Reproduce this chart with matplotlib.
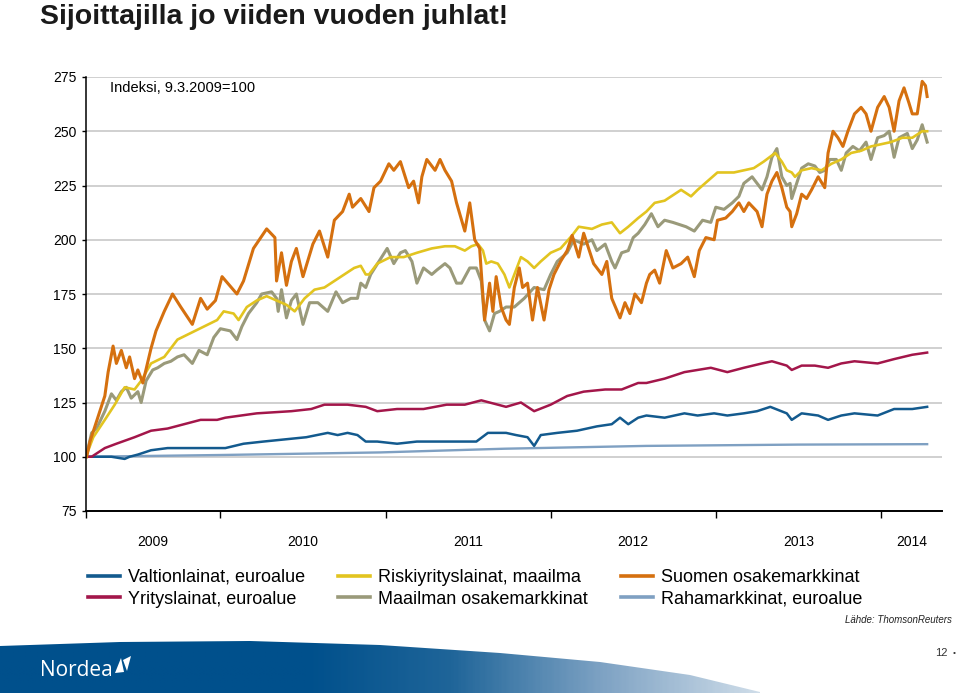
import numpy as np
import matplotlib
matplotlib.use("Agg")
import matplotlib.pyplot as plt
from matplotlib.colors import LinearSegmentedColormap
from matplotlib.patches import Polygon

plt.rcParams['font.family'] = ['Liberation Sans', 'DejaVu Sans']

# --- data (decimal years, index 9.3.2009 = 100) ---
suomen_t = [2009.19, 2009.21, 2009.24, 2009.27, 2009.30, 2009.32, 2009.35, 2009.37, 2009.40, 2009.43,
            2009.45, 2009.48, 2009.50, 2009.53, 2009.58, 2009.61, 2009.66, 2009.71, 2009.76, 2009.83,
            2009.88, 2009.92, 2009.97, 2010.01, 2010.10, 2010.14, 2010.20, 2010.28, 2010.33, 2010.34,
            2010.37, 2010.40, 2010.43, 2010.46, 2010.50, 2010.56, 2010.60, 2010.65, 2010.69, 2010.74,
            2010.78, 2010.80, 2010.85, 2010.90, 2010.93, 2010.97, 2011.02, 2011.05, 2011.09, 2011.14,
            2011.17, 2011.20, 2011.22, 2011.25, 2011.30, 2011.33, 2011.36, 2011.40, 2011.43, 2011.48,
            2011.51, 2011.54, 2011.57, 2011.60, 2011.63, 2011.65, 2011.67, 2011.70, 2011.73, 2011.75,
            2011.78, 2011.81, 2011.83, 2011.86, 2011.89, 2011.92, 2011.96, 2011.99, 2012.02, 2012.06,
            2012.10, 2012.13, 2012.17, 2012.20, 2012.23, 2012.26, 2012.31, 2012.34, 2012.37, 2012.42,
            2012.45, 2012.48, 2012.51, 2012.55, 2012.58, 2012.60, 2012.63, 2012.66, 2012.70, 2012.74,
            2012.79, 2012.83, 2012.87, 2012.90, 2012.94, 2012.99, 2013.01, 2013.06, 2013.10, 2013.14,
            2013.17, 2013.20, 2013.25, 2013.28, 2013.31, 2013.34, 2013.37, 2013.40, 2013.43, 2013.45,
            2013.46, 2013.49, 2013.52, 2013.55, 2013.58, 2013.62, 2013.66, 2013.68, 2013.71, 2013.74,
            2013.77, 2013.80, 2013.84, 2013.88, 2013.91, 2013.94, 2013.98, 2014.02, 2014.05, 2014.08,
            2014.11, 2014.14, 2014.17, 2014.19, 2014.22, 2014.25, 2014.27, 2014.28]
suomen_v = [100, 107, 114, 121, 128, 139, 151, 143, 149, 141,
            146, 136, 140, 134, 150, 158, 167, 175, 169, 161,
            173, 168, 172, 183, 175, 181, 196, 205, 201, 181,
            194, 179, 190, 196, 183, 198, 204, 192, 209, 213,
            221, 215, 219, 213, 224, 227, 235, 232, 236, 224,
            227, 217, 229, 237, 232, 237, 232, 227, 217, 204,
            217, 200, 196, 163, 180, 167, 183, 169, 163, 161,
            178, 187, 178, 180, 163, 178, 163, 177, 184, 190,
            195, 202, 192, 203, 196, 189, 184, 190, 173, 164,
            171, 166, 175, 171, 180, 184, 186, 180, 195, 187,
            189, 192, 183, 195, 201, 200, 209, 210, 213, 217,
            213, 217, 213, 206, 221, 227, 231, 224, 215, 213,
            206, 212, 221, 219, 223, 229, 224, 240, 250, 247,
            243, 250, 258, 261, 258, 250, 261, 266, 261, 250,
            264, 270, 263, 258, 258, 273, 271, 266]

maailman_t = [2009.19, 2009.22, 2009.25, 2009.30, 2009.34, 2009.37, 2009.40, 2009.43, 2009.46, 2009.50,
              2009.52, 2009.55, 2009.59, 2009.62, 2009.66, 2009.70, 2009.74, 2009.78, 2009.83, 2009.87,
              2009.92, 2009.96, 2010.00, 2010.06, 2010.10, 2010.13, 2010.17, 2010.22, 2010.25, 2010.31,
              2010.34, 2010.35, 2010.37, 2010.40, 2010.43, 2010.46, 2010.50, 2010.54, 2010.59, 2010.65,
              2010.70, 2010.74, 2010.79, 2010.83, 2010.85, 2010.88, 2010.91, 2010.96, 2011.01, 2011.05,
              2011.09, 2011.12, 2011.16, 2011.19, 2011.23, 2011.28, 2011.31, 2011.36, 2011.39, 2011.43,
              2011.46, 2011.51, 2011.55, 2011.58, 2011.60, 2011.63, 2011.66, 2011.69, 2011.73, 2011.78,
              2011.84, 2011.90, 2011.96, 2012.00, 2012.04, 2012.10, 2012.14, 2012.20, 2012.25, 2012.28,
              2012.33, 2012.37, 2012.39, 2012.43, 2012.47, 2012.50, 2012.53, 2012.57, 2012.61, 2012.65,
              2012.69, 2012.74, 2012.78, 2012.82, 2012.87, 2012.92, 2012.97, 2013.00, 2013.05, 2013.10,
              2013.14, 2013.17, 2013.22, 2013.25, 2013.28, 2013.31, 2013.34, 2013.37, 2013.40, 2013.43,
              2013.45, 2013.46, 2013.49, 2013.52, 2013.56, 2013.60, 2013.63, 2013.66, 2013.69, 2013.73,
              2013.76, 2013.79, 2013.83, 2013.87, 2013.91, 2013.94, 2013.98, 2014.02, 2014.05, 2014.08,
              2014.11, 2014.16, 2014.19, 2014.22, 2014.25, 2014.28]
maailman_v = [101, 111, 113, 121, 129, 126, 130, 132, 127, 130,
              125, 135, 140, 141, 143, 144, 146, 147, 143, 149,
              147, 155, 159, 158, 154, 160, 166, 171, 175, 176,
              173, 167, 177, 164, 172, 175, 161, 171, 171, 167,
              176, 171, 173, 173, 180, 178, 184, 190, 196, 189,
              194, 195, 190, 180, 187, 184, 186, 189, 187, 180,
              180, 187, 187, 181, 163, 158, 166, 167, 169, 169,
              173, 178, 177, 184, 190, 194, 200, 198, 200, 195,
              198, 190, 187, 194, 195, 201, 203, 207, 212, 206,
              209, 208, 207, 206, 204, 209, 208, 215, 214, 217,
              220, 226, 229, 226, 223, 229, 238, 242, 229, 225,
              226, 219, 226, 233, 235, 234, 231, 232, 237, 237,
              232, 240, 243, 241, 245, 237, 247, 248, 250, 238,
              247, 249, 242, 246, 253, 245]

riski_t = [2009.19, 2009.23, 2009.30, 2009.36, 2009.42, 2009.48, 2009.52, 2009.58, 2009.66, 2009.74,
           2009.82, 2009.90, 2009.98, 2010.02, 2010.08, 2010.11, 2010.16, 2010.22, 2010.28, 2010.34,
           2010.40, 2010.45, 2010.51, 2010.57, 2010.63, 2010.69, 2010.75, 2010.81, 2010.85, 2010.88,
           2010.90, 2010.95, 2011.03, 2011.11, 2011.19, 2011.28, 2011.36, 2011.42, 2011.48, 2011.52,
           2011.56, 2011.59, 2011.61, 2011.64, 2011.68, 2011.72, 2011.75, 2011.78, 2011.82, 2011.86,
           2011.90, 2011.94, 2012.00, 2012.06, 2012.13, 2012.17, 2012.25, 2012.31, 2012.37, 2012.42,
           2012.47, 2012.53, 2012.58, 2012.63, 2012.69, 2012.73, 2012.79, 2012.85, 2012.89, 2012.95,
           2013.01, 2013.07, 2013.11, 2013.17, 2013.23, 2013.29, 2013.36, 2013.40, 2013.43, 2013.46,
           2013.48, 2013.52, 2013.58, 2013.64, 2013.70, 2013.76, 2013.82, 2013.88, 2013.94, 2014.00,
           2014.06, 2014.13, 2014.19, 2014.25, 2014.28]
riski_v = [101, 109, 117, 124, 132, 131, 135, 143, 146, 154,
           157, 160, 163, 167, 166, 163, 169, 172, 174, 172,
           170, 167, 173, 177, 178, 181, 184, 187, 188, 184,
           184, 189, 192, 192, 194, 196, 197, 197, 195, 197,
           198, 195, 189, 190, 189, 184, 178, 184, 192, 190,
           187, 190, 194, 196, 202, 206, 205, 207, 208, 203,
           206, 210, 213, 217, 218, 220, 223, 220, 223, 227,
           231, 231, 231, 232, 233, 236, 240, 236, 232, 231,
           229, 232, 233, 232, 235, 237, 240, 241, 243, 244,
           245, 247, 247, 250, 250]

yritys_t = [2009.19, 2009.22, 2009.30, 2009.37, 2009.48, 2009.58, 2009.68, 2009.78, 2009.88, 2009.98,
            2010.03, 2010.22, 2010.43, 2010.55, 2010.63, 2010.77, 2010.88, 2010.95, 2011.07, 2011.23,
            2011.37, 2011.48, 2011.58, 2011.68, 2011.73, 2011.82, 2011.90, 2012.00, 2012.10, 2012.20,
            2012.33, 2012.43, 2012.53, 2012.58, 2012.69, 2012.81, 2012.97, 2013.07, 2013.17, 2013.28,
            2013.34, 2013.43, 2013.46, 2013.52, 2013.60, 2013.68, 2013.76, 2013.84, 2013.98, 2014.08,
            2014.19, 2014.28]
yritys_v = [100, 100, 104, 106, 109, 112, 113, 115, 117, 117,
            118, 120, 121, 122, 124, 124, 123, 121, 122, 122,
            124, 124, 126, 124, 123, 125, 121, 124, 128, 130,
            131, 131, 134, 134, 136, 139, 141, 139, 141, 143,
            144, 142, 140, 142, 142, 141, 143, 144, 143, 145,
            147, 148]

valtion_t = [2009.19, 2009.28, 2009.34, 2009.42, 2009.45, 2009.50, 2009.58, 2009.68, 2009.88, 2010.03,
             2010.14, 2010.26, 2010.39, 2010.52, 2010.65, 2010.71, 2010.77, 2010.83, 2010.88, 2010.95,
             2011.07, 2011.19, 2011.31, 2011.43, 2011.55, 2011.62, 2011.73, 2011.79, 2011.86, 2011.90,
             2011.94, 2012.04, 2012.16, 2012.28, 2012.37, 2012.42, 2012.47, 2012.53, 2012.58, 2012.69,
             2012.81, 2012.89, 2012.99, 2013.07, 2013.17, 2013.25, 2013.33, 2013.43, 2013.46, 2013.52,
             2013.62, 2013.68, 2013.76, 2013.84, 2013.98, 2014.08, 2014.19, 2014.28]
valtion_v = [100, 100, 100, 99, 100, 101, 103, 104, 104, 104,
             106, 107, 108, 109, 111, 110, 111, 110, 107, 107,
             106, 107, 107, 107, 107, 111, 111, 110, 109, 105,
             110, 111, 112, 114, 115, 118, 115, 118, 119, 118,
             120, 119, 120, 119, 120, 121, 123, 120, 117, 120,
             119, 117, 119, 120, 119, 122, 122, 123]

raha_t = [2009.19, 2010.00, 2010.97, 2011.72, 2012.58, 2013.50, 2014.28]
raha_v = [100, 100.8, 102.0, 103.7, 105.0, 105.6, 105.8]

year_bounds = [2009.186, 2010, 2011, 2012, 2013, 2014]
year_labels = ['2009', '2010', '2011', '2012', '2013', '2014']
x_end = 2014.37
y_ticks = [75, 100, 125, 150, 175, 200, 225, 250, 275]

c_valtion = '#135a8e'
c_yritys = '#a3164a'
c_riski = '#e2c420'
c_maailman = '#9a9a7a'
c_suomen = '#d5700f'
c_raha = '#7fa0c2'

fig = plt.figure(figsize=(9.6, 6.93), dpi=100)
ax = fig.add_axes([86 / 960, 1 - 511 / 693, 856 / 960, 434 / 693])

l_raha, = ax.plot(raha_t, raha_v, color=c_raha, lw=1.7, label='Rahamarkkinat, euroalue')
l_valtion, = ax.plot(valtion_t, valtion_v, color=c_valtion, lw=1.8, label='Valtionlainat, euroalue')
l_yritys, = ax.plot(yritys_t, yritys_v, color=c_yritys, lw=1.8, label='Yrityslainat, euroalue')
l_maailman, = ax.plot(maailman_t, maailman_v, color=c_maailman, lw=2.2, label='Maailman osakemarkkinat')
l_riski, = ax.plot(riski_t, riski_v, color=c_riski, lw=1.9, label='Riskiyrityslainat, maailma')
l_suomen, = ax.plot(suomen_t, suomen_v, color=c_suomen, lw=2.2, label='Suomen osakemarkkinat')

ax.set_xlim(year_bounds[0], x_end)
ax.set_ylim(75, 275)
ax.set_yticks(y_ticks)
ax.yaxis.grid(True, color='#c4c4c4', lw=1.1)
ax.set_axisbelow(True)

mids = [(a + b) / 2 for a, b in zip(year_bounds, year_bounds[1:] + [x_end])]
ax.set_xticks(year_bounds)
ax.set_xticklabels([])
ax.set_xticks(mids, minor=True)
ax.set_xticklabels(year_labels, minor=True)
ax.tick_params(axis='x', which='major', direction='out', length=5, width=1)
ax.tick_params(axis='x', which='minor', length=0, pad=17.5, labelsize=10)
ax.tick_params(axis='y', direction='out', length=3, width=1, pad=4, labelsize=10)

for s in ['top', 'right']:
    ax.spines[s].set_visible(False)
ax.spines['left'].set_linewidth(1.1)
ax.spines['bottom'].set_linewidth(1.4)

ax.text(0.028, 0.975, 'Indeksi, 9.3.2009=100', transform=ax.transAxes,
        fontsize=10.5, va='center', ha='left')

fig.text(40 / 960, 1 - 17.5 / 693, 'Sijoittajilla jo viiden vuoden juhlat!',
         fontsize=20.5, fontweight='bold', color='#1a1a1a', va='center', ha='left')

handles = [l_valtion, l_yritys, l_riski, l_maailman, l_suomen, l_raha]
leg = fig.legend(handles=handles, labels=[h.get_label() for h in handles],
                 loc='upper left', bbox_to_anchor=(88 / 960, 1 - 569 / 693),
                 ncol=3, frameon=False, fontsize=13, handlelength=1.77,
                 handletextpad=0.44, columnspacing=1.85, labelspacing=0.25,
                 borderpad=0, borderaxespad=0)
for ln in leg.get_lines():
    ln.set_linewidth(2.6)

fig.text(952 / 960, 1 - 620 / 693, 'Lähde: ThomsonReuters', fontsize=7,
         style='italic', ha='right', va='center', color='#222222')

# footer band with gradient
fax = fig.add_axes([0, 0, 1, 56 / 693])
fax.set_xlim(0, 960)
fax.set_ylim(693, 637)
fax.axis('off')
grad_cmap = LinearSegmentedColormap.from_list(
    'nordea', [(0, '#00508c'), (0.32, '#00508c'), (0.47, '#1f6599'),
               (0.63, '#7fa3c4'), (0.8, '#d3e0eb'), (1, '#ffffff')])
grad = np.linspace(0, 1, 400).reshape(1, -1)
im = fax.imshow(grad, cmap=grad_cmap, aspect='auto', extent=(0, 960, 693, 637))
band = Polygon([(0, 646), (120, 642), (250, 641), (380, 645), (500, 653), (600, 662),
                (690, 675), (760, 692), (760, 693), (0, 693)], closed=True,
               transform=fax.transData, facecolor='none', edgecolor='none')
fax.add_patch(band)
im.set_clip_path(band)

fax.text(40, 671, 'Nordea', color='white', fontsize=15, family=['Open Sans', 'DejaVu Sans'],
         va='center', ha='left')
sail1 = Polygon([(115, 673), (121, 658), (124, 672)], closed=True, facecolor='white',
                edgecolor='none', transform=fax.transData)
sail2 = Polygon([(123, 660), (131, 656), (127, 671)], closed=True, facecolor='white',
                edgecolor='none', transform=fax.transData)
fax.add_patch(sail1)
fax.add_patch(sail2)

fig.text(948 / 960, 1 - 653 / 693, '12', fontsize=8, ha='right', va='center', color='#333333')
fig.text(954 / 960, 1 - 653 / 693, '•', fontsize=6, ha='center', va='center', color='#333333')

fig.savefig('out.png', dpi=100)
